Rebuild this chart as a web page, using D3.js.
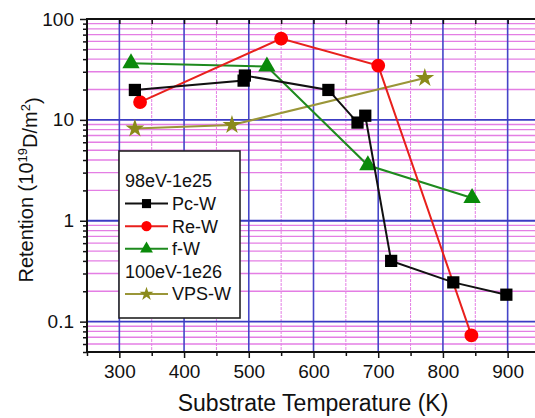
<!DOCTYPE html>
<html>
<head>
<meta charset="utf-8">
<script src="https://cdn.jsdelivr.net/npm/d3@7"></script>
<style>
  body { margin: 0; background: #fff; }
  svg { display: block; font-family: "Liberation Sans", Arial, sans-serif; }
</style>
</head>
<body>
<div id="chart"></div>
<script>
// series data: [temperature K, retention 1e19 D/m2]
const pcW  = [[324, 19.8], [492, 24.5], [494, 27.5], [623, 19.8], [668, 9.4], [680, 11], [720, 0.4], [816, 0.245], [898, 0.185]];
const reW  = [[332, 15], [550, 64], [700, 34.5], [844, 0.073]];
const fW   = [[318, 36.5], [528, 33.8], [684, 3.55], [845, 1.68]];
const vpsW = [[324, 8.2], [474, 8.9], [772, 26]];

const xTicks = [300, 400, 500, 600, 700, 800, 900];
const yTicks = [0.1, 1, 10, 100];
const yTickLabels = ["0.1", "1", "10", "100"];

const legendRows = [
  {label: "98eV-1e25"},
  {label: "Pc-W", key: "pc"},
  {label: "Re-W", key: "re"},
  {label: "f-W", key: "f"},
  {label: "100eV-1e26"},
  {label: "VPS-W", key: "vps"}
];

var margin = {top: 19, right: -5, bottom: 66, left: 87},
    W = 535, H = 418;

const svg = d3.select("#chart").append("svg")
    .attr("width", W)
    .attr("height", H);

let x = d3.scaleLinear().domain([250, 950]).range([margin.left, W - margin.right])
let y = d3.scaleLog().domain([0.05, 100]).range([H - margin.bottom, margin.top])

const styles = {
  pc:  {line: "#111", fill: "#000", sym: d3.symbolSquare, size: 150},
  re:  {line: "#e8201c", fill: "#ff0000", sym: d3.symbolCircle, size: 150},
  f:   {line: "#1e8a1e", fill: "#0a8a0a", sym: d3.symbolTriangle, size: 130},
  vps: {line: "#9a9638", fill: "#8a8a1a", sym: d3.symbolStar, size: 110}
}

// clip so the grid stops at the frame
svg.append("clipPath").attr("id", "plotclip")
  .append("rect")
    .attr("x", margin.left).attr("y", margin.top)
    .attr("width", x.range()[1] - margin.left)
    .attr("height", y.range()[0] - margin.top)

const grid = svg.append("g").attr("clip-path", "url(#plotclip)")

// minor grid (magenta)
const xMinor = d3.range(250, 951, 50).filter(v => v % 100 !== 0)
grid.selectAll(".xminor").data(xMinor).join("line")
    .attr("x1", d => x(d)).attr("x2", d => x(d))
    .attr("y1", y.range()[1]).attr("y2", y.range()[0])
    .attr("stroke", "#e47ee4").attr("stroke-width", 1).attr("stroke-dasharray", "3,1")

const yMinor = []
;[0.01, 0.1, 1, 10].forEach(dec => { for (let k = 2; k <= 9; k++) yMinor.push(dec * k) })
grid.selectAll(".yminor").data(yMinor.filter(v => v >= 0.05 && v <= 100)).join("line")
    .attr("x1", x.range()[0]).attr("x2", x.range()[1])
    .attr("y1", d => y(d)).attr("y2", d => y(d))
    .attr("stroke", "#e47ee4").attr("stroke-width", 1.3)

// major grid (blue)
grid.selectAll(".xmajor").data(xTicks).join("line")
    .attr("x1", d => x(d)).attr("x2", d => x(d))
    .attr("y1", y.range()[1]).attr("y2", y.range()[0])
    .attr("stroke", "#4545c8").attr("stroke-width", 1.6)
grid.selectAll(".ymajor").data(yTicks).join("line")
    .attr("x1", x.range()[0]).attr("x2", x.range()[1])
    .attr("y1", d => y(d)).attr("y2", d => y(d))
    .attr("stroke", "#3c3cc4").attr("stroke-width", 1.8)

// axes
let xAxis = g => g
    .attr("transform", `translate(0,${y.range()[0]})`)
    .call(d3.axisBottom(x).tickValues(xTicks).tickFormat(d3.format("d")).tickSize(6).tickPadding(7))
    .call(g => g.selectAll(".domain").remove())
    .call(g => g.selectAll("text").style("font-size", "19px").attr("fill", "#111"))
let xMinorAxis = g => g
    .attr("transform", `translate(0,${y.range()[0]})`)
    .call(d3.axisBottom(x).tickValues(xMinor).tickFormat("").tickSize(4))
    .call(g => g.selectAll(".domain").remove())
let yAxis = g => g
    .attr("transform", `translate(${margin.left},0)`)
    .call(d3.axisLeft(y).tickValues(yTicks).tickFormat((d, i) => yTickLabels[i]).tickSize(7).tickPadding(6))
    .call(g => g.selectAll(".domain").remove())
    .call(g => g.selectAll("text").style("font-size", "19px").attr("fill", "#111"))
let yMinorAxis = g => g
    .attr("transform", `translate(${margin.left},0)`)
    .call(d3.axisLeft(y).tickValues(yMinor.filter(v => v >= 0.05 && v <= 100)).tickFormat("").tickSize(4))
    .call(g => g.selectAll(".domain").remove())
let topAxis = g => g
    .attr("transform", `translate(0,${margin.top})`)
    .call(d3.axisBottom(x).tickValues(d3.range(300, 951, 50)).tickFormat("").tickSize(5))
    .call(g => g.selectAll(".domain").remove())

svg.append("g").call(xAxis)
svg.append("g").call(xMinorAxis)
svg.append("g").call(yAxis)
svg.append("g").call(yMinorAxis)
svg.append("g").call(topAxis)
svg.selectAll(".tick line").attr("stroke", "#111").attr("stroke-width", 1.5)

// frame
svg.append("rect")
    .attr("x", margin.left).attr("y", margin.top)
    .attr("width", x.range()[1] - margin.left)
    .attr("height", y.range()[0] - margin.top)
    .attr("fill", "none").attr("stroke", "#111").attr("stroke-width", 2)

// series
const line = d3.line().x(d => x(d[0])).y(d => y(d[1]))
const series = [
  {key: "vps", data: vpsW},
  {key: "f", data: fW},
  {key: "re", data: reW},
  {key: "pc", data: pcW}
]
series.forEach(s => {
  const st = styles[s.key]
  svg.append("path").datum(s.data)
      .attr("d", line).attr("fill", "none")
      .attr("stroke", st.line).attr("stroke-width", 2)
  svg.append("g").selectAll("path").data(s.data).join("path")
      .attr("transform", d => `translate(${x(d[0])},${y(d[1])})`)
      .attr("d", d3.symbol().type(st.sym).size(st.size))
      .attr("fill", st.fill)
})

// legend
const lg = svg.append("g")
lg.append("rect")
    .attr("x", 119).attr("y", 151).attr("width", 121).attr("height", 167)
    .attr("fill", "#fff").attr("stroke", "#222").attr("stroke-width", 1.6)
legendRows.forEach((r, i) => {
  const cy = 181 + i * 22.6
  if (r.key) {
    const st = styles[r.key]
    lg.append("line").attr("x1", 125).attr("x2", 168).attr("y1", cy).attr("y2", cy)
        .attr("stroke", st.line).attr("stroke-width", 2)
    lg.append("path").attr("transform", `translate(146.5,${cy})`)
        .attr("d", d3.symbol().type(st.sym).size(st.size * 0.55)).attr("fill", st.fill)
    lg.append("text").attr("x", 172).attr("y", cy).attr("dy", "0.36em")
        .style("font-size", "18px").attr("fill", "#111").text(r.label)
  } else {
    lg.append("text").attr("x", 125).attr("y", cy).attr("dy", "0.36em")
        .style("font-size", "18px").attr("fill", "#111").text(r.label)
  }
})

// axis titles
svg.append("text")
    .attr("x", 313).attr("y", 411)
    .attr("text-anchor", "middle")
    .style("font-size", "23px").attr("fill", "#111")
    .text("Substrate Temperature (K)")

const yt = svg.append("text")
    .attr("transform", "translate(33,190) rotate(-90)")
    .attr("text-anchor", "middle")
    .style("font-size", "20px").attr("fill", "#111")
yt.append("tspan").text("Retention (10")
yt.append("tspan").attr("dy", "-0.5em").style("font-size", "13px").text("19")
yt.append("tspan").attr("dy", "0.5em").text("D/m")
yt.append("tspan").attr("dy", "-0.5em").style("font-size", "13px").text("2")
yt.append("tspan").attr("dy", "0.5em").text(")")
</script>
</body>
</html>
